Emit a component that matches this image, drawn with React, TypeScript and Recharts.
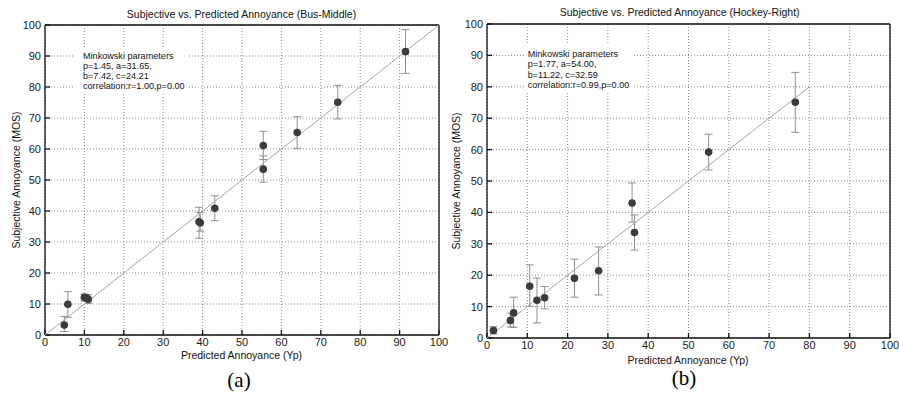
import React from 'react';
import { ScatterChart, Scatter, XAxis, YAxis, CartesianGrid, ErrorBar } from 'recharts';

// ---------- data ----------
const axisTicks = [0, 10, 20, 30, 40, 50, 60, 70, 80, 90, 100];

// Bus-Middle (a)
const busX = [4.9, 5.8, 10.0, 10.5, 11.0, 39.1, 39.4, 43.1, 55.4, 55.4, 64.0, 74.3, 91.5];
const busY = [3.2, 9.9, 12.2, 12.0, 11.5, 36.5, 36.2, 40.9, 61.1, 53.5, 65.3, 75.1, 91.4];
const busLo = [1.1, 5.7, 11.0, 10.8, 10.2, 31.2, 33.5, 36.9, 56.6, 49.3, 60.2, 69.7, 84.4];
const busHi = [6.0, 14.0, 13.2, 13.0, 13.0, 41.2, 39.5, 44.9, 65.7, 57.8, 70.4, 80.5, 98.5];
const busFitEnds = [0, 100];
const busNote = ['Minkowski parameters', 'p=1.45, a=31.65,', 'b=7.42, c=24.21', 'correlation:r=1.00,p=0.00'];

// Hockey-Right (b)
const hockeyX = [1.6, 5.8, 6.6, 10.6, 12.4, 14.3, 21.7, 27.7, 36.0, 36.6, 55.0, 76.5];
const hockeyY = [2.4, 5.6, 8.0, 16.5, 12.0, 12.8, 19.0, 21.4, 43.0, 33.6, 59.2, 75.1];
const hockeyLo = [1.3, 3.5, 3.4, 10.1, 4.8, 9.3, 13.0, 13.7, 36.9, 28.0, 53.5, 65.5];
const hockeyHi = [3.6, 7.9, 13.0, 23.3, 19.1, 16.4, 25.1, 29.0, 49.4, 39.2, 64.9, 84.6];
const hockeyFitEnds = [0, 80];
const hockeyNote = ['Minkowski parameters', 'p=1.77, a=54.00,', 'b=11.22, c=32.59', 'correlation:r=0.99,p=0.00'];

const xLabel = 'Predicted Annoyance (Yp)';
const yLabel = 'Subjective Annoyance (MOS)';

function buildPoints(xs: number[], ys: number[], lo: number[], hi: number[]) {
  return xs.map((x, i) => ({ x, y: ys[i], err: [ys[i] - lo[i], hi[i] - ys[i]] }));
}
function buildFit(ends: number[]) {
  return ends.map((v) => ({ x: v, y: v }));
}

const SANS = '"Liberation Sans", Arial, sans-serif';
const SERIF = '"Liberation Serif", "Times New Roman", serif';

const Dot = (props: any) => <circle cx={props.cx} cy={props.cy} r={3.8} fill="#3b3b3b" />;
const NoShape = () => <g />;

type PanelProps = {
  left: number;
  width: number;
  margin: { top: number; right: number; bottom: number; left: number };
  points: any[];
  fit: any[];
  title: string;
  note: string[];
  tag: string;
  titleX: number;
  titleY: number;
  xLabelX: number;
  xLabelY: number;
  yLabelX: number;
  yLabelY: number;
  tagX: number;
  tagY: number;
  noteX: number;
  noteY: number;
  noteStep: number;
  box: { x: number; y: number; w: number; h: number };
};

function Panel(p: PanelProps) {
  const tickStyle = { fill: '#1a1a1a', fontSize: 11, fontFamily: SANS };
  const axisCommon = {
    type: 'number' as const,
    domain: [0, 100],
    ticks: axisTicks,
    interval: 0 as const,
    allowDataOverflow: true,
    stroke: '#111',
    strokeWidth: 1.3,
    tickSize: -5,
  };
  return (
    <div style={{ position: 'absolute', left: p.left, top: 0, width: p.width, height: 393 }}>
      <ScatterChart width={p.width} height={393} margin={p.margin}>
        <CartesianGrid xAxisId="b" yAxisId="l" stroke="#8a8a8a" strokeDasharray="1 2" strokeWidth={1} />
        <XAxis xAxisId="b" dataKey="x" orientation="bottom" height={1} tickMargin={8} tick={tickStyle} {...axisCommon} />
        <XAxis xAxisId="t" dataKey="x" orientation="top" height={1} tick={false} {...axisCommon} />
        <YAxis yAxisId="l" dataKey="y" orientation="left" width={1} tickMargin={9} tick={tickStyle} {...axisCommon} />
        <YAxis yAxisId="r" dataKey="y" orientation="right" width={1} tick={false} {...axisCommon} />
        <Scatter
          xAxisId="b"
          yAxisId="l"
          data={p.fit}
          line={{ stroke: '#a5a5a5', strokeWidth: 1 }}
          shape={NoShape}
          isAnimationActive={false}
        />
        <Scatter xAxisId="t" yAxisId="r" data={p.fit} shape={NoShape} isAnimationActive={false} />
        <Scatter xAxisId="b" yAxisId="l" data={p.points} shape={Dot} isAnimationActive={false}>
          <ErrorBar dataKey="err" direction="y" width={4} stroke="#8f8f8f" strokeWidth={1} isAnimationActive={false} />
        </Scatter>
      </ScatterChart>
      <svg
        width={p.width}
        height={393}
        style={{ position: 'absolute', left: 0, top: 0, pointerEvents: 'none' }}
      >
        <rect x={p.box.x} y={p.box.y} width={p.box.w} height={p.box.h} fill="#fff" />
        {p.note.map((line, i) => (
          <text key={i} x={p.noteX} y={p.noteY + i * p.noteStep} fontSize={9.1} fontFamily={SANS} fill="#111">
            {line}
          </text>
        ))}
        <text x={p.titleX} y={p.titleY} textAnchor="middle" fontSize={10.5} fontFamily={SANS} fill="#111">
          {p.title}
        </text>
        <text x={p.xLabelX} y={p.xLabelY} textAnchor="middle" fontSize={10.5} fontFamily={SANS} fill="#111">
          {xLabel}
        </text>
        <text
          x={p.yLabelX}
          y={p.yLabelY}
          textAnchor="middle"
          fontSize={10.5}
          fontFamily={SANS}
          fill="#111"
          transform={`rotate(-90 ${p.yLabelX} ${p.yLabelY})`}
        >
          {yLabel}
        </text>
        <text x={p.tagX} y={p.tagY} textAnchor="middle" fontSize={21} fontFamily={SERIF} fill="#000">
          {p.tag}
        </text>
      </svg>
    </div>
  );
}

export default function App() {
  const busPoints = buildPoints(busX, busY, busLo, busHi);
  const hockeyPoints = buildPoints(hockeyX, hockeyY, hockeyLo, hockeyHi);
  return (
    <div style={{ position: 'absolute', left: 0, top: 0, width: 899, height: 393, background: '#fff' }}>
      <Panel
        left={0}
        width={450}
        margin={{ top: 24, right: 10, bottom: 57, left: 44 }}
        points={busPoints}
        fit={buildFit(busFitEnds)}
        title="Subjective vs. Predicted Annoyance (Bus-Middle)"
        note={busNote}
        tag="(a)"
        titleX={241.5}
        titleY={17.5}
        xLabelX={241.5}
        xLabelY={359.2}
        yLabelX={19.5}
        yLabelY={180}
        tagX={239}
        tagY={387}
        noteX={83}
        noteY={58.5}
        noteStep={10.2}
        box={{ x: 75, y: 47, w: 112, h: 46 }}
      />
      <Panel
        left={450}
        width={449}
        margin={{ top: 23, right: 8, bottom: 54, left: 36 }}
        points={hockeyPoints}
        fit={buildFit(hockeyFitEnds)}
        title="Subjective vs. Predicted Annoyance (Hockey-Right)"
        note={hockeyNote}
        tag="(b)"
        titleX={229.7}
        titleY={15.8}
        xLabelX={238}
        xLabelY={363.5}
        yLabelX={10}
        yLabelY={181}
        tagX={234}
        tagY={384.5}
        noteX={77.7}
        noteY={57}
        noteStep={10.4}
        box={{ x: 74, y: 45, w: 109, h: 46 }}
      />
    </div>
  );
}
